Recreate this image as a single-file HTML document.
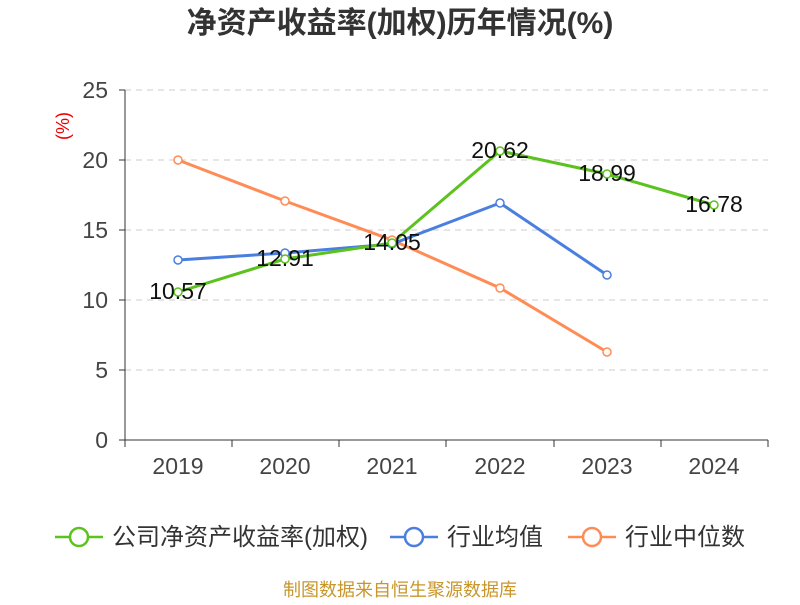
<!DOCTYPE html>
<html><head><meta charset="utf-8"><style>
body{margin:0;background:#fff;}
svg text{font-family:"Liberation Sans","Noto Sans CJK SC",sans-serif;}
</style></head><body>
<svg width="800" height="600" viewBox="0 0 800 600" xmlns="http://www.w3.org/2000/svg">
<text x="400" y="33" text-anchor="middle" font-size="30" font-weight="bold" fill="#333">净资产收益率(加权)历年情况(%)</text>
<text transform="translate(69,126) rotate(-90)" text-anchor="middle" font-size="18" fill="#e00">(%)</text>
<g stroke="#ccc" stroke-dasharray="6,5" stroke-width="1">
<line x1="125" y1="90" x2="768" y2="90"/><line x1="125" y1="160" x2="768" y2="160"/>
<line x1="125" y1="230" x2="768" y2="230"/><line x1="125" y1="300" x2="768" y2="300"/>
<line x1="125" y1="370" x2="768" y2="370"/>
</g>
<g stroke="#333" stroke-width="1">
<line x1="125" y1="90" x2="125" y2="440"/><line x1="125" y1="440" x2="768" y2="440"/>
<line x1="119" y1="90" x2="125" y2="90"/><line x1="119" y1="160" x2="125" y2="160"/><line x1="119" y1="230" x2="125" y2="230"/><line x1="119" y1="300" x2="125" y2="300"/><line x1="119" y1="370" x2="125" y2="370"/><line x1="119" y1="440" x2="125" y2="440"/>
<line x1="125" y1="440" x2="125" y2="447"/><line x1="232" y1="440" x2="232" y2="447"/><line x1="339" y1="440" x2="339" y2="447"/><line x1="446" y1="440" x2="446" y2="447"/><line x1="554" y1="440" x2="554" y2="447"/><line x1="661" y1="440" x2="661" y2="447"/><line x1="768" y1="440" x2="768" y2="447"/>
</g>
<g font-size="23" fill="#444" text-anchor="end">
<text x="108" y="98">25</text><text x="108" y="168">20</text><text x="108" y="238">15</text><text x="108" y="308">10</text><text x="108" y="378">5</text><text x="108" y="448">0</text>
</g>
<g font-size="23" fill="#444" text-anchor="middle">
<text x="178" y="474">2019</text><text x="285" y="474">2020</text><text x="392" y="474">2021</text><text x="500" y="474">2022</text><text x="607" y="474">2023</text><text x="714" y="474">2024</text>
</g>
<polyline fill="none" stroke="#ff8c55" stroke-width="3" points="178,160 285,201 392,240 500,288 607,352"/>
<polyline fill="none" stroke="#4a7fe0" stroke-width="3" points="178,260 285,253 392,244 500,203 607,275"/>
<polyline fill="none" stroke="#5cc21e" stroke-width="3" points="178,292 285,259 392,243 500,151 607,174 714,205"/>
<g fill="#fff" stroke-width="1.5">
<g stroke="#ff8c55"><circle cx="178" cy="160" r="4"/><circle cx="285" cy="201" r="4"/><circle cx="392" cy="240" r="4"/><circle cx="500" cy="288" r="4"/><circle cx="607" cy="352" r="4"/></g>
<g stroke="#4a7fe0"><circle cx="178" cy="260" r="4"/><circle cx="285" cy="253" r="4"/><circle cx="392" cy="244" r="4"/><circle cx="500" cy="203" r="4"/><circle cx="607" cy="275" r="4"/></g>
<g stroke="#5cc21e"><circle cx="178" cy="292" r="4"/><circle cx="285" cy="259" r="4"/><circle cx="392" cy="243" r="4"/><circle cx="500" cy="151" r="4"/><circle cx="607" cy="174" r="4"/><circle cx="714" cy="205" r="4"/></g>
</g>
<g font-size="23" fill="#111" text-anchor="middle">
<text x="178" y="299">10.57</text><text x="285" y="266">12.91</text><text x="392" y="250">14.05</text><text x="500" y="158">20.62</text><text x="607" y="181">18.99</text><text x="714" y="212">16.78</text>
</g>
<g stroke-width="2.5" fill="#fff">
<line x1="55" y1="537" x2="103" y2="537" stroke="#5cc21e"/><circle cx="79" cy="537" r="9" stroke="#5cc21e"/>
<line x1="390" y1="537" x2="438" y2="537" stroke="#4a7fe0"/><circle cx="414" cy="537" r="9" stroke="#4a7fe0"/>
<line x1="568" y1="537" x2="616" y2="537" stroke="#ff8c55"/><circle cx="592" cy="537" r="9" stroke="#ff8c55"/>
</g>
<g font-size="24" fill="#333">
<text x="112" y="545">公司净资产收益率(加权)</text><text x="447" y="545">行业均值</text><text x="625" y="545">行业中位数</text>
</g>
<text x="400" y="596" text-anchor="middle" font-size="18" fill="#c8962a">制图数据来自恒生聚源数据库</text>
</svg>
</body></html>
